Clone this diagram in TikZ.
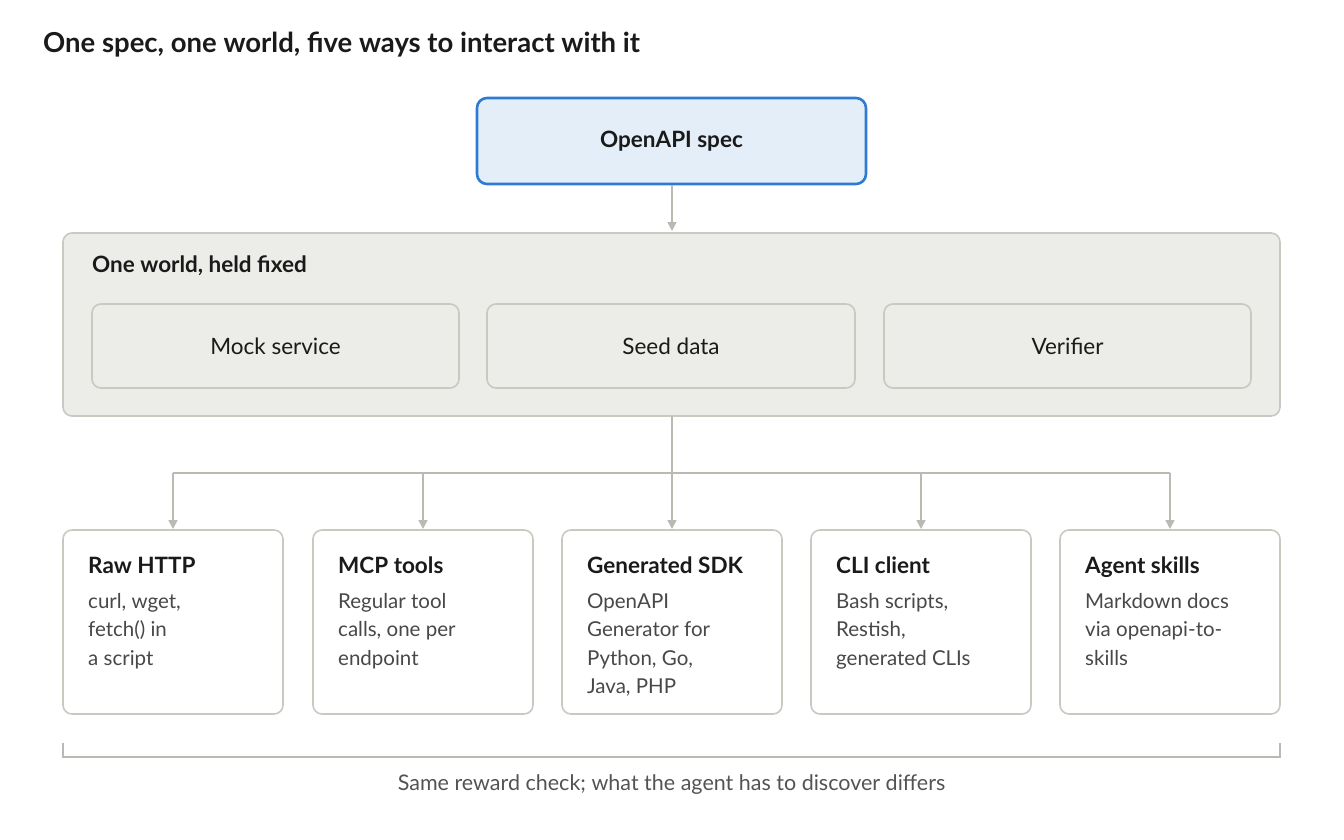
\documentclass[tikz,border=0pt]{standalone}
\usepackage{fontspec}
\setmainfont{Lato}
\usetikzlibrary{arrows.meta}
\definecolor{lineg}{HTML}{B9BAB1}
\definecolor{boxg}{HTML}{ECECE9}
\definecolor{bord}{HTML}{C9C9C1}
\definecolor{blueb}{HTML}{2F7AD3}
\definecolor{bluef}{HTML}{E4EEF8}
\definecolor{txt}{HTML}{1A1A1A}
\begin{document}
\begin{tikzpicture}[x=1pt,y=-1pt,
  conn/.style={draw=lineg,line width=1.6pt},
  arr/.style={conn,-{Triangle[length=9pt,width=9pt]}},
  rbox/.style={draw=bord,line width=1.6pt,rounded corners=9pt},
  ttl/.style={anchor=base west,font=\fontsize{22.5}{26}\selectfont\bfseries,text=txt,inner sep=0},
  body/.style={anchor=north west,align=left,font=\fontsize{20.5}{28.5}\selectfont,text=txt!80,inner sep=0},
  mid/.style={font=\fontsize{22.5}{26}\selectfont,text=txt}]
\useasboundingbox (0,0) rectangle (1344,840);
\node[anchor=base west,inner sep=0,font=\fontsize{27.5}{32}\selectfont\bfseries,text=txt] (title) at (43,53) {One spec, one world, five ways to interact with it};
\draw[draw=blueb,fill=bluef,line width=2.6pt,rounded corners=10pt] (477,98) rectangle (866,184);
\node[mid,font=\fontsize{22.5}{26}\selectfont\bfseries] (spec) at (671.5,141) {OpenAPI spec};
\coordinate (specb) at (672,185);
\coordinate (worldt) at (672,231);
\draw[arr] (specb) -- (worldt);
\draw[rbox,fill=boxg] (63,233) rectangle (1280,416);
\node[ttl] (world) at (92,272) {One world, held fixed};
\foreach \a/\b/\t/\n in {92/459/Mock service/m,487/855/Seed data/s,884/1251/Verifier/v}{
  \draw[rbox,fill=boxg] (\a,304) rectangle (\b,388);
  \node[mid] (\n) at ({(\a+\b)/2},346) {\t};
}
\coordinate (wb) at (672,416);
\coordinate (j) at (672,473);
\draw[conn] (wb) -- (j);
\draw[conn] (173,473) -- (1170,473);
\foreach \a/\t/\bd/\n in {63/Raw HTTP/{curl, wget,\\fetch() in\\a script}/h,
  313/MCP tools/{Regular tool\\calls, one per\\endpoint}/p,
  562/Generated SDK/{OpenAPI\\Generator for\\Python, Go,\\Java, PHP}/g,
  811/CLI client/{Bash scripts,\\Restish,\\generated CLIs}/c,
  1060/Agent skills/{Markdown docs\\via openapi-to-\\skills}/k}{
  \coordinate (t\n) at (\a+110,473);
  \coordinate (e\n) at (\a+110,529);
  \draw[arr] (t\n) -- (e\n);
  \draw[rbox,fill=white] (\a,530) rectangle (\a+220,714);
  \node[ttl] (n\n) at (\a+25,573) {\t};
  \node[body] (b\n) at (\a+25,593) {\bd};
}
\draw[conn] (63,743) -- (63,757) -- (1280,757) -- (1280,743);
\node[font=\fontsize{21.5}{25}\selectfont,text=txt!75] (cap) at (671.5,785) {Same reward check; what the agent has to discover differs};
\end{tikzpicture}
\end{document}
